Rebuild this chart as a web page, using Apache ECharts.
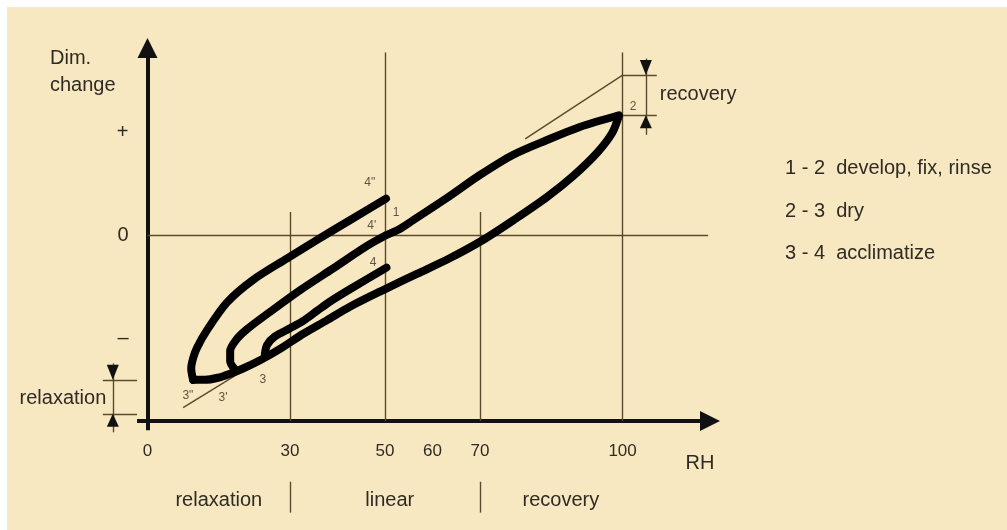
<!DOCTYPE html>
<html>
<head>
<meta charset="utf-8">
<script src="https://cdn.jsdelivr.net/npm/echarts@6/dist/echarts.min.js"></script>
<style>
html,body{margin:0;padding:0;background:#fff;}
#wrap{position:relative;width:1007px;height:530px;background:#fff;overflow:hidden;}
#paper{position:absolute;left:7px;top:7px;width:1000px;height:523px;background:#F8E8C2;}
#chart{position:absolute;left:0;top:0;width:1007px;height:530px;}
</style>
</head>
<body>
<div id="wrap"><div id="paper"></div><div id="chart"></div></div>
<script>
// ---- axis ticks ----
const xTicks = [0, 30, 50, 60, 70, 100];
const yTicks = [10, 0, -10];
const yTickLabels = ['+', '0', '–'];

// ---- curves (RH, dimensional change) ----
// 3' -> 4' -> 1 -> 2 : develop, fix, rinse (upper branch)
const upperBranch = [[18.4,-13.0],[17.4,-12.2],[17.4,-11.2],[18.7,-10.1],[20.9,-9.1],[25.8,-7.4],[32.1,-5.3],[39.0,-3.2],[46.2,-1.0],[49.6,-0.1],[53.1,0.65],[55.9,1.5],[63.0,3.66],[70.0,5.9],[76.9,7.84],[84.1,9.29],[91.0,10.56],[99.2,11.7]];
// 2 -> 3 -> 3' -> 3'' : dry (lower branch)
const lowerBranch = [[99.2,11.6],[97.8,9.97],[94.6,8.03],[89.6,5.8],[84.1,3.76],[77.4,1.62],[70.6,-0.42],[63.7,-2.17],[56.7,-3.71],[49.6,-5.28],[42.6,-6.9],[37.8,-8.2],[32.7,-9.55],[27.9,-11.0],[23.7,-12.1],[20.1,-12.9],[17.4,-13.4],[14.8,-13.8],[12.1,-14.0],[9.6,-14.0]];
// 3'' -> 4'' : acclimatize
const outerReturn = [[9.6,-14.0],[9.2,-12.9],[9.6,-11.9],[10.4,-10.9],[12.5,-9.2],[16.7,-6.5],[22.2,-4.3],[29.4,-2.2],[35.7,-0.4],[42.6,1.5],[50.2,3.6]];
// 3 -> 4 : acclimatize
const innerReturn = [[24.7,-11.5],[25.2,-10.6],[26.8,-9.8],[30.0,-9.0],[32.7,-8.3],[35.7,-7.3],[38.4,-6.4],[42.6,-5.2],[50.3,-3.1]];

// ---- reference lines ----
const guideLines = [
  [[30,-18],[30,2.3]], [[50,-18],[50,17.8]], [[70,-18],[70,2.3]], [[100,-18],[100,17.8]],
  [[0,0],[118,0]],
  [[79.5,9.4],[100,15.6]],
  [[7.5,-16.7],[18.8,-13.5]],
  [[100,15.6],[107.2,15.6]], [[100,11.7],[107.2,11.7]], [[104.9,17.2],[104.9,9.8]],
  [[-9.4,-14.0],[-2.2,-14.0]], [[-9.4,-17.3],[-2.2,-17.3]], [[-7.3,-12.4],[-7.3,-19.1]],
  [[30,-23.9],[30,-26.9]], [[70,-23.9],[70,-26.9]]
];
const axisStubs = [[[0,-18],[0,-18.9]], [[-2.2,-18],[0,-18]]];
const arrowsDown = [[-7.3,-14.0],[104.9,15.6]];
const arrowsUp = [[-7.3,-17.3],[104.9,11.7]];

// ---- point labels ----
const pointNames = ['1','2','3',"3'",'3"','4',"4'",'4"'];
const pointCoords = [[52.3,2.2],[102.2,12.5],[24.3,-14.0],[15.9,-15.7],[8.5,-15.5],[47.5,-2.6],[47.2,1.0],[46.8,5.1]];
// ---- region / bracket labels ----
const regionNames = ['relaxation','linear','recovery'];
const regionCoords = [[15,-25.7],[51,-25.7],[87,-25.7]];
const bracketNames = ['relaxation','recovery'];
const bracketCoords = [[-17.8,-15.8],[115.9,13.7]];
// ---- legend text ----
const stepTexts = ['1 - 2  develop, fix, rinse','2 - 3  dry','3 - 4  acclimatize'];

const FONT = '"Liberation Sans", Arial, sans-serif';
const TXT = '#2e2b24';
const THIN = '#5a4a2a';

const chart = echarts.init(document.getElementById('chart'), null, {renderer:'canvas'});

function curve(name, data) {
  return {
    name, type:'line', data, smooth:0.3, symbol:'none', showSymbol:false,
    lineStyle:{color:'#000', width:8, cap:'round', join:'round'}, z:5, clip:false
  };
}
function textSeries(names, coords, size, color) {
  return {type:'scatter', symbolSize:0, clip:false, z:6,
    itemStyle:{opacity:1},
    data: names.map((n,i)=>({name:n, value:coords[i]})),
    label:{show:true, position:'inside', formatter:'{b}', fontSize:size, fontFamily:FONT, color:color, opacity:1}};
}

const option = {
  backgroundColor:'transparent',
  animation:false,
  grid:{left:147.5, right:297, top:48, bottom:109, containLabel:false},
  xAxis:{
    type:'value', min:0, max:118.4,
    axisLine:{show:true, onZero:false, lineStyle:{color:'#111', width:4}, symbol:['none','triangle'], symbolSize:[20,20]},
    axisTick:{show:false}, splitLine:{show:false},
    axisLabel:{customValues:xTicks, fontSize:17, fontFamily:FONT, color:TXT, margin:22}
  },
  yAxis:{
    type:'value', min:-18, max:18.23,
    axisLine:{show:true, onZero:false, lineStyle:{color:'#111', width:4}, symbol:['none','triangle'], symbolSize:[20,20]},
    axisTick:{show:false}, splitLine:{show:false},
    axisLabel:{customValues:yTicks, fontSize:20, fontFamily:FONT, color:TXT, margin:19,
      formatter:function(v){ const i = yTicks.indexOf(v); return i>=0 ? yTickLabels[i] : ''; }}
  },
  series:[
    {type:'lines', coordinateSystem:'cartesian2d', polyline:false, clip:false, z:3,
     lineStyle:{color:THIN, width:1.4, opacity:1},
     data: guideLines.map(c => ({coords:c}))},
    {type:'lines', coordinateSystem:'cartesian2d', polyline:false, clip:false, z:3,
     lineStyle:{color:'#111', width:4, opacity:1},
     data: axisStubs.map(c => ({coords:c}))},
    {type:'scatter', data:arrowsDown, symbol:'path://M0,0L2,0L1,2Z', symbolSize:[12,15], symbolOffset:[0,'-50%'],
     itemStyle:{color:'#111', opacity:1}, clip:false, z:4},
    {type:'scatter', data:arrowsUp, symbol:'path://M1,0L2,2L0,2Z', symbolSize:[12,13], symbolOffset:[0,'50%'],
     itemStyle:{color:'#111', opacity:1}, clip:false, z:4},
    curve('upper', upperBranch),
    curve('lower', lowerBranch),
    curve('outer', outerReturn),
    curve('inner', innerReturn),
    textSeries(pointNames, pointCoords, 12, '#5e5440'),
    textSeries(regionNames, regionCoords, 20, TXT),
    textSeries(bracketNames, bracketCoords, 20, TXT)
  ],
  graphic:[
    {type:'text', x:50, y:58, style:{text:'Dim.', fontSize:20, fontFamily:FONT, fill:TXT, align:'left', verticalAlign:'middle'}},
    {type:'text', x:50, y:85, style:{text:'change', fontSize:20, fontFamily:FONT, fill:TXT, align:'left', verticalAlign:'middle'}},
    {type:'text', x:700, y:463, style:{text:'RH', fontSize:20, fontFamily:FONT, fill:TXT, align:'center', verticalAlign:'middle'}},
    {type:'text', x:785, y:168, style:{text:stepTexts[0], fontSize:20, fontFamily:FONT, fill:TXT, align:'left', verticalAlign:'middle'}},
    {type:'text', x:785, y:211, style:{text:stepTexts[1], fontSize:20, fontFamily:FONT, fill:TXT, align:'left', verticalAlign:'middle'}},
    {type:'text', x:785, y:253, style:{text:stepTexts[2], fontSize:20, fontFamily:FONT, fill:TXT, align:'left', verticalAlign:'middle'}}
  ]
};
chart.setOption(option);
</script>
</body>
</html>
